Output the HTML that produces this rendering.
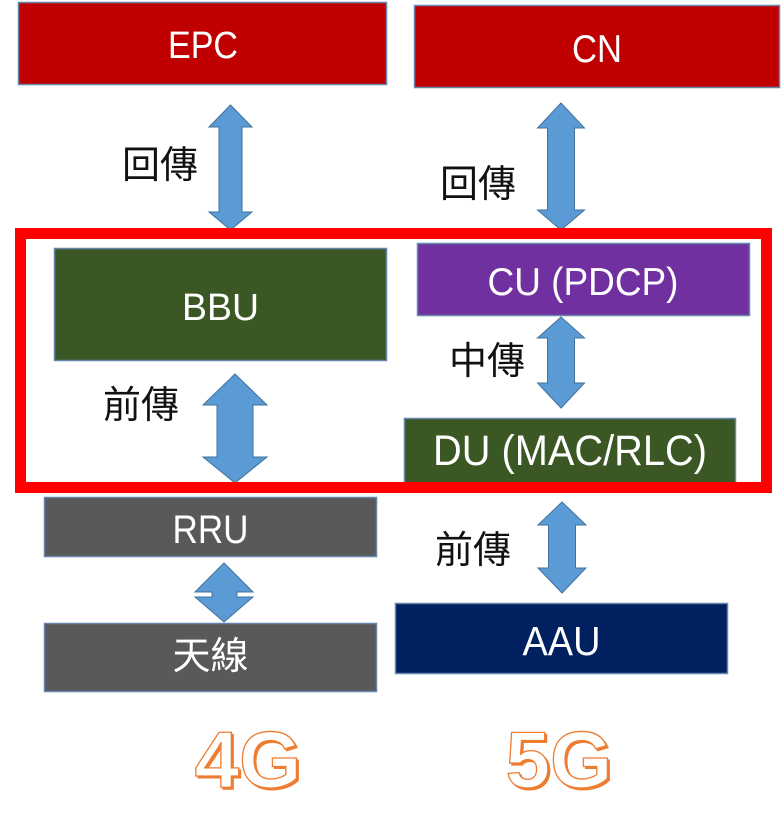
<!DOCTYPE html>
<html>
<head>
<meta charset="utf-8">
<style>
  html, body { margin: 0; padding: 0; background: #ffffff; }
  svg { display: block; }
  .lbl { font-family: "Liberation Sans", "Noto Sans CJK TC", sans-serif; fill: #ffffff; }
  .cjk { font-family: "Liberation Sans", "Noto Sans CJK TC", sans-serif; fill: #111111; font-size: 38px; }
  .big { font-family: "Liberation Sans", "DejaVu Sans", sans-serif; font-weight: bold; font-size: 80px; }
</style>
</head>
<body>
<svg width="782" height="821" viewBox="0 0 782 821" xmlns="http://www.w3.org/2000/svg">
  <rect x="0" y="0" width="782" height="821" fill="#ffffff"/>

  <!-- Top boxes -->
  <rect x="18.5" y="2.5" width="368" height="82" fill="#c00000" stroke="#6585ad" stroke-width="1.5"/>
  <text class="lbl" x="203" y="58" font-size="38" text-anchor="middle" textLength="70" lengthAdjust="spacingAndGlyphs">EPC</text>

  <rect x="414.5" y="5.5" width="365" height="82" fill="#c00000" stroke="#6585ad" stroke-width="1.5"/>
  <text class="lbl" x="597" y="62" font-size="39" text-anchor="middle" textLength="50" lengthAdjust="spacingAndGlyphs">CN</text>

  <!-- Arrow EPC - BBU -->
  <polygon points="230.5,105 252,127 242,127 242,212 252,212 230.5,230 209,212 219,212 219,127 209,127" fill="#5b9bd5" stroke="#41719c" stroke-width="1"/>
  <text class="cjk" x="160" y="166" text-anchor="middle" dominant-baseline="central">回傳</text>

  <!-- Arrow CN - CU -->
  <polygon points="561,103 584.5,128 574.5,128 574.5,210 584.5,210 561,230 537.5,210 547.5,210 547.5,128 537.5,128" fill="#5b9bd5" stroke="#41719c" stroke-width="1"/>
  <text class="cjk" x="478" y="185" text-anchor="middle" dominant-baseline="central">回傳</text>

  <!-- BBU -->
  <rect x="54.5" y="248.5" width="332" height="112" fill="#3b5724" stroke="#6585ad" stroke-width="1.5"/>
  <text class="lbl" x="220.5" y="320" font-size="38" text-anchor="middle" textLength="77" lengthAdjust="spacingAndGlyphs">BBU</text>

  <!-- Arrow BBU - RRU -->
  <polygon points="235,374 267,405 253,405 253,457 267,457 235,483 203,457 217,457 217,405 203,405" fill="#5b9bd5" stroke="#41719c" stroke-width="1"/>
  <text class="cjk" x="141" y="406" text-anchor="middle" dominant-baseline="central">前傳</text>

  <!-- CU -->
  <rect x="417.5" y="243.5" width="332" height="72" fill="#7030a0" stroke="#6585ad" stroke-width="1.5"/>
  <text class="lbl" x="583" y="295" font-size="39" text-anchor="middle" textLength="191" lengthAdjust="spacingAndGlyphs">CU (PDCP)</text>

  <!-- Arrow CU - DU -->
  <polygon points="561,317 584.5,338 574.5,338 574.5,383 584.5,383 561,408 537.5,383 547.5,383 547.5,338 537.5,338" fill="#5b9bd5" stroke="#41719c" stroke-width="1"/>
  <text class="cjk" x="487" y="362" text-anchor="middle" dominant-baseline="central">中傳</text>

  <!-- DU -->
  <rect x="404.5" y="418.5" width="331" height="66" fill="#3b5724" stroke="#6585ad" stroke-width="1.5"/>
  <text class="lbl" x="570" y="465" font-size="43" text-anchor="middle" textLength="274" lengthAdjust="spacingAndGlyphs">DU (MAC/RLC)</text>

  <!-- Red frame -->
  <rect x="20.5" y="233.5" width="746" height="254" fill="none" stroke="#fe0000" stroke-width="11"/>

  <!-- RRU -->
  <rect x="44.5" y="497.5" width="332" height="59" fill="#595959" stroke="#6585ad" stroke-width="1.5"/>
  <text class="lbl" x="210.5" y="543" font-size="40" text-anchor="middle" textLength="76" lengthAdjust="spacingAndGlyphs">RRU</text>

  <!-- Diamond arrow RRU - antenna -->
  <polygon points="224,563 253,592 237,592 237,597 253,597 224,622 195,597 212,597 212,592 195,592" fill="#5b9bd5" stroke="#41719c" stroke-width="1"/>

  <!-- Antenna -->
  <rect x="44.5" y="623.5" width="332" height="68" fill="#595959" stroke="#6585ad" stroke-width="1.5"/>
  <text class="lbl" x="210.5" y="657" font-size="38" text-anchor="middle" dominant-baseline="central">天線</text>

  <!-- Arrow DU - AAU -->
  <polygon points="562,502 586,525 575.5,525 575.5,568 586,568 562,593 538,568 548.5,568 548.5,525 538,525" fill="#5b9bd5" stroke="#41719c" stroke-width="1"/>
  <text class="cjk" x="473" y="551" text-anchor="middle" dominant-baseline="central">前傳</text>

  <!-- AAU -->
  <rect x="395.5" y="603.5" width="332" height="70" fill="#002060" stroke="#6585ad" stroke-width="1.5"/>
  <text class="lbl" x="561.5" y="655" font-size="41" text-anchor="middle" textLength="78" lengthAdjust="spacingAndGlyphs">AAU</text>

  <!-- 4G / 5G -->
  <text class="big" x="250" y="789" text-anchor="middle" fill="#ed7d31" stroke="#ed7d31" stroke-width="1">4G</text>
  <text class="big" x="248" y="787" text-anchor="middle" fill="#ffffff" stroke="#ed7d31" stroke-width="1.3">4G</text>

  <text class="big" x="561" y="789" text-anchor="middle" fill="#ed7d31" stroke="#ed7d31" stroke-width="1">5G</text>
  <text class="big" x="559" y="787" text-anchor="middle" fill="#ffffff" stroke="#ed7d31" stroke-width="1.3">5G</text>
</svg>
</body>
</html>
